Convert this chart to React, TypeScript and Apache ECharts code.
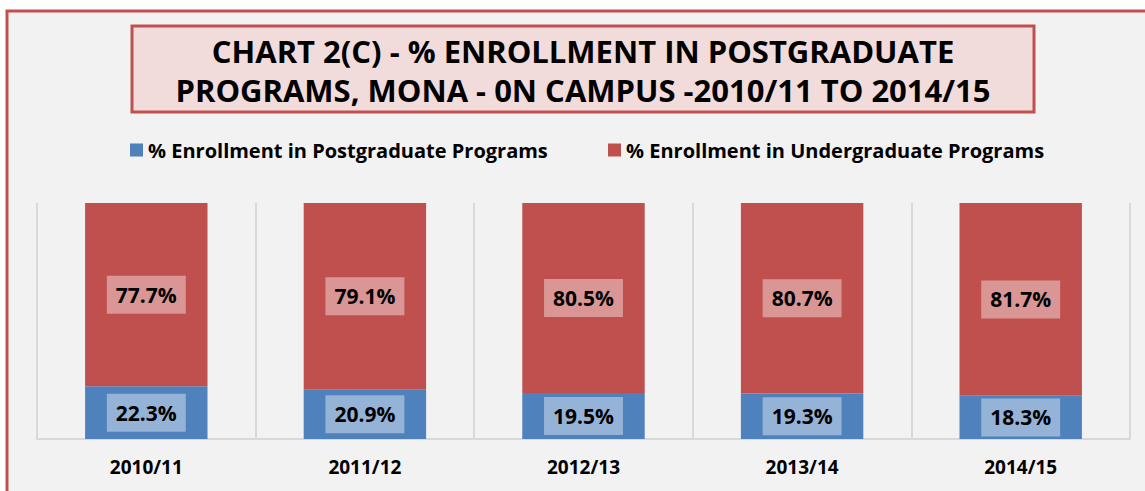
import React, { useEffect, useRef } from "react";
import * as echarts from "echarts";

const categories = ["2010/11", "2011/12", "2012/13", "2013/14", "2014/15"];
const postgradValues = [22.3, 20.9, 19.5, 19.3, 18.3];
const undergradValues = [77.7, 79.1, 80.5, 80.7, 81.7];
const seriesNames = [
  "% Enrollment in Postgraduate Programs",
  "% Enrollment in Undergraduate Programs",
];
const titleLines = [
  "CHART 2(C) - % ENROLLMENT IN POSTGRADUATE",
  "PROGRAMS, MONA - 0N CAMPUS -2010/11 TO 2014/15",
];

const FONT = "'Open Sans', sans-serif";

export default function App() {
  const ref = useRef<HTMLDivElement>(null);
  useEffect(() => {
    if (!ref.current) return;
    const chart = echarts.init(ref.current, undefined, { renderer: "svg" });
    const labelBase = {
      show: true,
      position: "inside",
      formatter: (p: any) => `${p.value}%`,
      color: "#000",
      fontFamily: FONT,
      fontWeight: "bold",
      fontSize: 21,
      lineHeight: 24,
      padding: [7, 9],
    };
    const titleTexts = titleLines.map((line, i) => ({
      type: "text",
      z: 6,
      silent: true,
      x: 583,
      y: 51 + i * 39,
      style: {
        text: line,
        fill: "#000",
        fontFamily: FONT,
        fontWeight: "bold",
        fontSize: 31,
        lineHeight: 33,
        align: "center",
        verticalAlign: "middle",
      },
    }));
    chart.setOption({
      animation: false,
      backgroundColor: "#ffffff",
      graphic: [
        {
          type: "rect",
          z: -10,
          silent: true,
          shape: { x: 7, y: 11, width: 1300, height: 700 },
          style: { fill: "#f2f2f2", stroke: "#c0504d", lineWidth: 3 },
        },
        {
          type: "rect",
          z: 5,
          silent: true,
          shape: { x: 132, y: 26, width: 902, height: 86 },
          style: { fill: "#f2dcdb", stroke: "#c0504d", lineWidth: 3 },
        },
        ...titleTexts,
      ],
      legend: [
        {
          data: [seriesNames[0]],
          left: 130,
          top: 140,
          itemWidth: 13,
          itemHeight: 13,
          itemGap: 5,
          icon: "rect",
          textStyle: { fontFamily: FONT, fontWeight: "bold", fontSize: 20, color: "#000" },
          padding: 0,
        },
        {
          data: [seriesNames[1]],
          left: 608,
          top: 140,
          itemWidth: 13,
          itemHeight: 13,
          icon: "rect",
          textStyle: { fontFamily: FONT, fontWeight: "bold", fontSize: 20, color: "#000" },
          padding: 0,
        },
      ],
      grid: { left: 37, right: 15, top: 203, bottom: 52, containLabel: false },
      xAxis: {
        type: "category",
        data: categories,
        axisLine: { show: true, lineStyle: { color: "#d9d9d9", width: 2 } },
        axisTick: { show: false },
        splitLine: { show: true, lineStyle: { color: "#d9d9d9", width: 2 } },
        axisLabel: {
          color: "#000",
          fontFamily: FONT,
          fontWeight: "bold",
          fontSize: 19,
          margin: 18,
        },
      },
      yAxis: {
        type: "value",
        min: 0,
        max: 100,
        show: false,
        splitLine: { show: false },
      },
      series: [
        {
          name: seriesNames[0],
          type: "bar",
          stack: "total",
          barWidth: "56%",
          data: postgradValues,
          itemStyle: { color: "#4f81bd" },
          label: { ...labelBase, backgroundColor: "#95b3d7" },
        },
        {
          name: seriesNames[1],
          type: "bar",
          stack: "total",
          barWidth: "56%",
          data: undergradValues,
          itemStyle: { color: "#c0504d" },
          label: { ...labelBase, backgroundColor: "#d99694" },
        },
      ],
    });
    return () => chart.dispose();
  }, []);
  return (
    <div
      ref={ref}
      style={{ position: "fixed", left: 0, top: 0, width: 1145, height: 491 }}
    />
  );
}
